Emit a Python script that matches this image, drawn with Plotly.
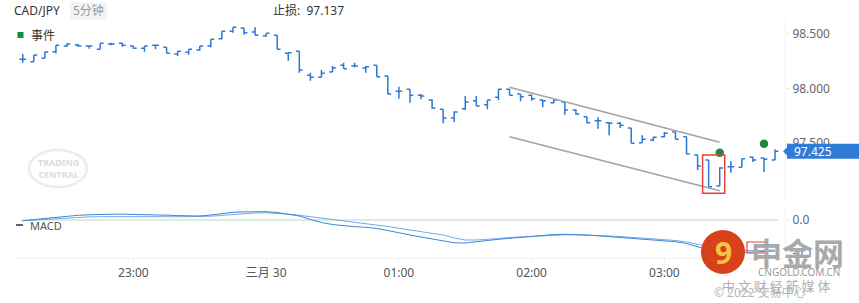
import plotly.graph_objects as go

# ---------------- data ----------------
bars = list(range(69))  # 5-minute bars from 22:10 to 03:50
opens = [98.265, 98.243, 98.274, 98.335, 98.387, 98.396, 98.387, 98.356, 98.405, 98.411,
         98.387, 98.366, 98.393, 98.375, 98.314, 98.329, 98.350, 98.387, 98.453, 98.521,
         98.551, 98.515, 98.478, 98.484, 98.320, 98.338, 98.119, 98.101, 98.149, 98.210,
         98.204, 98.186, 98.210, 98.112, 97.973, 97.991, 97.936, 97.893, 97.808, 97.729,
         97.814, 97.887, 97.850, 97.918, 97.991, 97.948, 97.936, 97.893, 97.868, 97.875,
         97.802, 97.740, 97.704, 97.686, 97.680, 97.637, 97.503, 97.527, 97.558, 97.601,
         97.558, 97.390, 97.345, 97.107, 97.283, 97.278, 97.369, 97.363, 97.345]
highs = [98.314, 98.304, 98.335, 98.393, 98.411, 98.405, 98.387, 98.411, 98.417, 98.417,
         98.387, 98.387, 98.396, 98.375, 98.338, 98.356, 98.387, 98.448, 98.521, 98.558,
         98.551, 98.558, 98.503, 98.484, 98.325, 98.338, 98.143, 98.167, 98.204, 98.234,
         98.234, 98.204, 98.210, 98.112, 98.015, 97.991, 97.948, 97.899, 97.808, 97.790,
         97.930, 97.930, 97.893, 97.991, 97.996, 97.948, 97.941, 97.893, 97.899, 97.875,
         97.808, 97.740, 97.735, 97.692, 97.692, 97.637, 97.570, 97.558, 97.601, 97.607,
         97.558, 97.393, 97.345, 97.278, 97.333, 97.356, 97.375, 97.363, 97.442]
lows = [98.234, 98.243, 98.274, 98.320, 98.380, 98.380, 98.362, 98.356, 98.393, 98.380,
        98.362, 98.335, 98.356, 98.320, 98.295, 98.307, 98.344, 98.375, 98.448, 98.508,
        98.490, 98.484, 98.472, 98.356, 98.252, 98.143, 98.069, 98.101, 98.149, 98.179,
        98.192, 98.143, 98.106, 97.948, 97.905, 97.868, 97.899, 97.814, 97.680, 97.692,
        97.802, 97.838, 97.808, 97.893, 97.936, 97.881, 97.887, 97.826, 97.863, 97.759,
        97.759, 97.680, 97.631, 97.570, 97.637, 97.497, 97.503, 97.516, 97.552, 97.534,
        97.399, 97.253, 97.095, 97.107, 97.229, 97.278, 97.326, 97.235, 97.345]
closes = [98.265, 98.304, 98.332, 98.393, 98.405, 98.387, 98.387, 98.411, 98.405, 98.393,
          98.366, 98.387, 98.393, 98.320, 98.338, 98.356, 98.387, 98.448, 98.521, 98.558,
          98.508, 98.484, 98.503, 98.356, 98.325, 98.167, 98.101, 98.137, 98.186, 98.179,
          98.204, 98.197, 98.106, 97.948, 97.973, 97.936, 97.930, 97.820, 97.729, 97.783,
          97.875, 97.838, 97.893, 97.991, 97.936, 97.923, 97.905, 97.887, 97.893, 97.802,
          97.765, 97.686, 97.704, 97.680, 97.662, 97.497, 97.534, 97.552, 97.589, 97.534,
          97.399, 97.290, 97.101, 97.271, 97.283, 97.356, 97.345, 97.351, 97.425]

macd_line = [-0.0021, 0.0015, 0.0052, 0.0092, 0.0122, 0.0144, 0.0159, 0.0174, 0.0177, 0.0177,
             0.0174, 0.0168, 0.0159, 0.0147, 0.0135, 0.0125, 0.0122, 0.0153, 0.0199, 0.0235,
             0.0248, 0.0254, 0.0254, 0.0229, 0.0183, 0.0122, 0.0015, -0.0076, -0.0138, -0.0177,
             -0.0205, -0.0223, -0.0260, -0.0321, -0.0398, -0.0459, -0.0520, -0.0581, -0.0642, -0.0697,
             -0.0703, -0.0673, -0.0627, -0.0590, -0.0560, -0.0529, -0.0498, -0.0468, -0.0443, -0.0437,
             -0.0443, -0.0459, -0.0483, -0.0511, -0.0535, -0.0560, -0.0581, -0.0612, -0.0636, -0.0664,
             -0.0719, -0.0810, -0.0917, -0.0979, -0.0994, -0.0994, -0.0979, -0.0963, -0.0948]
signal_line = [-0.0021, 0.0000, 0.0024, 0.0046, 0.0067, 0.0086, 0.0095, 0.0101, 0.0104, 0.0107,
               0.0107, 0.0107, 0.0104, 0.0101, 0.0098, 0.0098, 0.0101, 0.0116, 0.0141, 0.0168,
               0.0196, 0.0214, 0.0223, 0.0208, 0.0177, 0.0144, 0.0104, 0.0061, 0.0021, -0.0018,
               -0.0061, -0.0101, -0.0147, -0.0199, -0.0254, -0.0306, -0.0352, -0.0388, -0.0459, -0.0550,
               -0.0612, -0.0612, -0.0596, -0.0566, -0.0535, -0.0514, -0.0495, -0.0477, -0.0459, -0.0453,
               -0.0453, -0.0459, -0.0474, -0.0489, -0.0505, -0.0526, -0.0550, -0.0575, -0.0599, -0.0627,
               -0.0673, -0.0749, -0.0826, -0.0887, -0.0917, -0.0933, -0.0933, -0.0927, -0.0917]

event_x = [63, 67]
event_y = [97.411, 97.494]

channel_x = [44, 63]
upper_y = [98.009, 97.506]
lower_y = [97.558, 97.064]

highlight_bars = [62, 63]

time_tick_bars = [10, 22, 34, 46, 58]
time_tick_text = ["23:00", "三月 30", "01:00", "02:00", "03:00"]
price_ticks = [98.5, 98.0, 97.5]
price_tick_text = ["98.500", "98.000", "97.500"]
macd_ticks = [0.0, -0.1]
macd_tick_text = ["0.0", "-0.1"]

symbol = "CAD/JPY"
period = "5分钟"
stop_loss = 97.137

# ---------------- figure ----------------
W, H = 859, 303
ML, MR, MT, MB = 15, 74, 20, 45
PW, PH = W - ML - MR, H - MT - MB


def px(x):
    return (x - ML) / PW


def py(y):
    return (H - MB - y) / PH


FONT = "Noto Sans, Noto Sans CJK SC, sans-serif"
BLUE = "#2a78d6"

fig = go.Figure()

fig.add_trace(go.Ohlc(
    x=bars, open=opens, high=highs, low=lows, close=closes,
    increasing=dict(line=dict(color=BLUE, width=1.5)),
    decreasing=dict(line=dict(color=BLUE, width=1.5)),
    tickwidth=0.3, xaxis="x", yaxis="y", showlegend=False, hoverinfo="skip"))

fig.add_trace(go.Scatter(x=channel_x, y=upper_y, mode="lines",
                         line=dict(color="#a3a3a3", width=1.5), xaxis="x", yaxis="y",
                         showlegend=False, hoverinfo="skip"))
fig.add_trace(go.Scatter(x=channel_x, y=lower_y, mode="lines",
                         line=dict(color="#a3a3a3", width=1.5), xaxis="x", yaxis="y",
                         showlegend=False, hoverinfo="skip"))

fig.add_trace(go.Scatter(x=event_x, y=event_y, mode="markers",
                         marker=dict(color="#148a3c", size=8.5, symbol="circle"),
                         xaxis="x", yaxis="y", showlegend=False, hoverinfo="skip"))

fig.add_trace(go.Scatter(x=bars, y=signal_line, mode="lines",
                         line=dict(color="#74a9e6", width=1), xaxis="x", yaxis="y2",
                         showlegend=False, hoverinfo="skip"))
fig.add_trace(go.Scatter(x=bars, y=macd_line, mode="lines",
                         line=dict(color="#3d86d8", width=1), xaxis="x", yaxis="y2",
                         showlegend=False, hoverinfo="skip"))

shapes = []
# MACD zero line
shapes.append(dict(type="line", xref="x", yref="y2", x0=bars[0] - 0.2, x1=bars[-1] + 0.3,
                   y0=0, y1=0, line=dict(color="#cfe7cf", width=1.5), layer="below"))
# highlight box around bars
hb_low = min(lows[b] for b in highlight_bars)
hb_high = max(highs[b] for b in highlight_bars)
shapes.append(dict(type="rect", xref="x", yref="y",
                   x0=highlight_bars[0] - 0.55, x1=highlight_bars[-1] + 0.45,
                   y0=hb_low - 0.055, y1=hb_high + 0.045,
                   line=dict(color="#e8413c", width=1.5)))
# header tag background
shapes.append(dict(type="rect", xref="paper", yref="paper",
                   x0=px(70), x1=px(107), y0=py(20), y1=py(2),
                   fillcolor="#f4f4f4", line=dict(width=0), layer="below"))
# legend square for events
shapes.append(dict(type="rect", xref="paper", yref="paper",
                   x0=px(17.5), x1=px(23.5), y0=py(38), y1=py(32),
                   fillcolor="#148a3c", line=dict(width=0)))
# MACD legend dash
shapes.append(dict(type="line", xref="paper", yref="paper",
                   x0=px(16), x1=px(23), y0=py(225), y1=py(225),
                   line=dict(color="#666", width=2)))
# TRADING CENTRAL watermark ellipse
shapes.append(dict(type="circle", xref="paper", yref="paper",
                   x0=px(29), x1=px(87), y0=py(187), y1=py(150),
                   line=dict(color="#ececec", width=2.5), layer="below"))
# current price label
last = closes[-1]
half = 7.5 / 109.4
shapes.append(dict(type="rect", xref="paper", yref="y",
                   x0=px(787), x1=px(859), y0=last - half, y1=last + half,
                   fillcolor="#2f7bd6", line=dict(width=0)))
shapes.append(dict(type="path", xref="paper", yref="y",
                   path=f"M {px(783)} {last} L {px(787.5)} {last + half*0.6} L {px(787.5)} {last - half*0.6} Z",
                   fillcolor="#2f7bd6", line=dict(width=0)))
# cngold logo circle
shapes.append(dict(type="circle", xref="paper", yref="paper",
                   x0=px(701), x1=px(745), y0=py(274), y1=py(230),
                   fillcolor="#d9411c", line=dict(width=0)))
shapes.append(dict(type="rect", xref="paper", yref="paper",
                   x0=px(747), x1=px(767), y0=py(253), y1=py(242),
                   line=dict(color="#e8413c", width=1.2)))

annotations = [
    dict(text=symbol, x=px(12), y=py(11), xref="paper", yref="paper", xanchor="left",
         yanchor="middle", showarrow=False, font=dict(size=12, color="#333", family=FONT)),
    dict(text=period, x=px(88.5), y=py(11), xref="paper", yref="paper", xanchor="center",
         yanchor="middle", showarrow=False, font=dict(size=12, color="#999", family=FONT)),
    dict(text=f"止损:  {stop_loss:.3f}", x=px(271), y=py(11), xref="paper", yref="paper",
         xanchor="left", yanchor="middle", showarrow=False,
         font=dict(size=12, color="#333", family=FONT)),
    dict(text="事件", x=px(29), y=py(35), xref="paper", yref="paper", xanchor="left",
         yanchor="middle", showarrow=False, font=dict(size=12, color="#333", family=FONT)),
    dict(text="MACD", x=px(28), y=py(225), xref="paper", yref="paper", xanchor="left",
         yanchor="middle", showarrow=False, font=dict(size=11, color="#555", family=FONT)),
    dict(text="<b>TRADING<br>CENTRAL</b>", x=px(58), y=py(168.5), xref="paper", yref="paper",
         xanchor="center", yanchor="middle", showarrow=False,
         font=dict(size=9, color="#dcdcdc", family=FONT)),
    dict(text=f"{last:.3f}", x=px(792), y=last, xref="paper", yref="y", xanchor="left",
         yanchor="middle", showarrow=False, font=dict(size=12, color="white", family=FONT)),
    dict(text="<b>9</b>", x=px(723), y=py(252), xref="paper", yref="paper", xanchor="center",
         yanchor="middle", showarrow=False, font=dict(size=30, color="#f5c445", family=FONT)),
    dict(text="<b>中金网</b>", x=px(797), y=py(251), xref="paper", yref="paper",
         xanchor="center", yanchor="middle", showarrow=False,
         font=dict(size=31, color="#a9a9a9", family="Noto Sans CJK SC")),
    dict(text="CNGOLD.COM.CN", x=px(799), y=py(271.5), xref="paper", yref="paper",
         xanchor="center", yanchor="middle", showarrow=False,
         font=dict(size=10, color="#9a9a9a", family=FONT)),
    dict(text="中 文 财 经 新 媒 体", x=px(776), y=py(285), xref="paper", yref="paper",
         xanchor="center", yanchor="middle", showarrow=False,
         font=dict(size=13, color="#b0b0b0", family="Noto Sans CJK SC")),
    dict(text="© 2022 交易中心", x=px(760), y=py(292), xref="paper", yref="paper",
         xanchor="center", yanchor="middle", showarrow=False,
         font=dict(size=12, color="#b5b5b5", family=FONT)),
]

main_top, main_bot = 20, 200
macd_top, macd_bot = 205, 258
k = 109.4
price_at = lambda p: 98.0 - (p - 88.3) / k
macd_at = lambda p: (220 - p) / 327

fig.update_layout(
    width=W, height=H, margin=dict(l=ML, r=MR, t=MT, b=MB),
    paper_bgcolor="white", plot_bgcolor="white",
    font=dict(family=FONT, size=12, color="#666"),
    showlegend=False,
    shapes=shapes, annotations=annotations,
    xaxis=dict(range=[-0.7, 68.9], anchor="y2", tickmode="array",
               tickvals=time_tick_bars, ticktext=time_tick_text,
               showgrid=False, zeroline=False, showline=True, linecolor="#f2f2f2",
               ticks="outside", ticklen=4, tickcolor="#eeeeee",
               tickfont=dict(size=12, color="#555"), rangeslider=dict(visible=False)),
    yaxis=dict(domain=[py(main_bot), py(main_top)],
               range=[price_at(main_bot), price_at(main_top)],
               side="right", anchor="x", tickmode="array", tickvals=price_ticks,
               ticktext=price_tick_text, showgrid=False, zeroline=False,
               showline=True, linecolor="#f2f2f2", ticks="outside", ticklen=4,
               tickcolor="#eeeeee", tickfont=dict(size=12, color="#666")),
    yaxis2=dict(domain=[0, py(macd_top)],
                range=[macd_at(macd_bot), macd_at(macd_top)],
                side="right", anchor="x", tickmode="array", tickvals=macd_ticks,
                ticktext=macd_tick_text, showgrid=False, zeroline=False,
                showline=True, linecolor="#f2f2f2", ticks="outside", ticklen=4,
                tickcolor="#eeeeee", tickfont=dict(size=12, color="#666")),
)

fig.write_html("out.html")
